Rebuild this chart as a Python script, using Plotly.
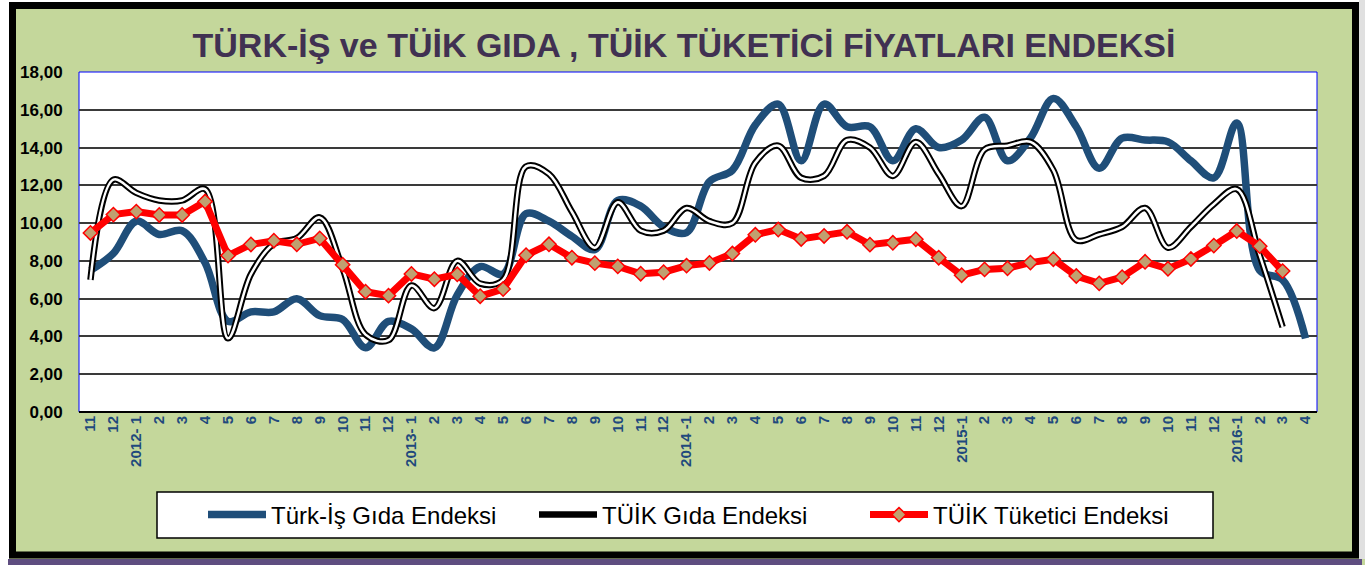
import plotly.graph_objects as go

# ---------------- data ----------------
x_labels = ["11", "12",
            "2012- 1", "2", "3", "4", "5", "6", "7", "8", "9", "10", "11", "12",
            "2013- 1", "2", "3", "4", "5", "6", "7", "8", "9", "10", "11", "12",
            "2014 -1", "2", "3", "4", "5", "6", "7", "8", "9", "10", "11", "12",
            "2015-1", "2", "3", "4", "5", "6", "7", "8", "9", "10", "11", "12",
            "2016-1", "2", "3", "4"]

turkis_gida = [7.5, 8.4, 10.1, 9.4, 9.6, 7.9, 4.8, 5.3, 5.3, 6.0, 5.1, 4.9, 3.4, 4.8,
               4.4, 3.4, 6.2, 7.7, 7.3, 10.5, 10.1, 9.3, 8.6, 11.2, 10.9, 9.8,
               9.5, 12.2, 12.8, 15.2, 16.3, 13.3, 16.3, 15.1, 15.1, 13.3, 15.0, 14.0,
               14.4, 15.6, 13.3, 14.5, 16.6, 15.1, 12.9, 14.5, 14.4, 14.3, 13.3, 12.4,
               15.3, 7.5, 7.0, 3.9]

tuik_gida = [7.0, 12.3, 11.6, 11.2, 11.2, 11.8, 3.9, 7.3, 8.9, 9.2, 10.3, 7.6, 4.1, 3.8,
             6.7, 5.5, 8.0, 6.8, 7.0, 13.0, 12.6, 10.6, 8.7, 11.1, 9.6, 9.6,
             10.8, 10.1, 10.0, 13.2, 14.1, 12.4, 12.5, 14.4, 14.0, 12.5, 14.3, 12.6,
             10.9, 13.9, 14.1, 14.3, 12.8, 9.1, 9.4, 9.8, 10.8, 8.7, 9.8, 11.0,
             11.8, 8.3, 4.5, None]

tuik_tuketici = [9.48, 10.45, 10.61, 10.43, 10.43, 11.14, 8.28, 8.87, 9.07, 8.88, 9.19, 7.80, 6.37, 6.16,
                 7.31, 7.03, 7.29, 6.13, 6.51, 8.30, 8.88, 8.17, 7.88, 7.71, 7.32, 7.40,
                 7.75, 7.89, 8.39, 9.38, 9.66, 9.16, 9.32, 9.54, 8.86, 8.96, 9.15, 8.17,
                 7.24, 7.55, 7.61, 7.91, 8.09, 7.20, 6.81, 7.14, 7.95, 7.58, 8.10, 8.81,
                 9.58, 8.78, 7.46, None]

series_names = ["Türk-İş Gıda Endeksi", "TÜİK Gıda Endeksi", "TÜİK Tüketici Endeksi"]
y_ticks = [0, 2, 4, 6, 8, 10, 12, 14, 16, 18]
title_text = "TÜRK-İŞ ve TÜİK GIDA , TÜİK TÜKETİCİ FİYATLARI ENDEKSİ"

# ---------------- layout geometry ----------------
W, H = 1365, 565
ML, MR, MT, MB = 79, 48, 72, 153
PW, PH = W - ML - MR, H - MT - MB

def px(xp):
    return (xp - ML) / PW

def py(yp):
    return (H - MB - yp) / PH

FONT = "Liberation Sans, Arial, sans-serif"
xs = list(range(len(x_labels)))

fig = go.Figure()

fig.add_trace(go.Scatter(
    x=xs, y=turkis_gida, name=series_names[0], mode="lines",
    line=dict(color="#1F4E79", width=7.5, shape="spline", smoothing=1.0),
))
fig.add_trace(go.Scatter(
    x=xs, y=tuik_gida, name=series_names[1], mode="lines",
    line=dict(color="#000000", width=6.5, shape="spline", smoothing=1.0),
    legendgroup="tg",
))
fig.add_trace(go.Scatter(
    x=xs, y=tuik_gida, name=series_names[1], mode="lines", showlegend=False,
    line=dict(color="#FFFFFF", width=2.5, shape="spline", smoothing=1.0),
    legendgroup="tg", hoverinfo="skip",
))
fig.add_trace(go.Scatter(
    x=xs, y=tuik_tuketici, name=series_names[2], mode="lines+markers",
    line=dict(color="#FF0000", width=7),
    marker=dict(symbol="diamond", size=11, color="#C0A070",
                line=dict(color="#FF0000", width=1.5)),
))

def rect(x0, y0, x1, y1, **kw):
    return dict(type="rect", xref="paper", yref="paper",
                x0=px(x0), x1=px(x1), y0=py(y1), y1=py(y0), layer="below", **kw)

shapes = [
    # outer black frame
    rect(12.5, 5.5, 1355.5, 555, line=dict(color="#000000", width=7)),
    # bottom purple shadow
    rect(8, 559, 1362, 565, line=dict(width=0), fillcolor="#5E4D80"),
    # white margins around the frame
    rect(0, 0, 9, 559, line=dict(width=0), fillcolor="#FFFFFF"),
    rect(0, 0, W, 2, line=dict(width=0), fillcolor="#FFFFFF"),
    rect(1359, 0, W, 559, line=dict(width=0), fillcolor="#E0E0E0"),
    rect(0, 559, 8, 565, line=dict(width=0), fillcolor="#FFFFFF"),
    # legend box
    rect(157, 492, 1213, 538, line=dict(color="#000000", width=1.5), fillcolor="#FFFFFF"),
    # plot area border (blue)
    dict(type="rect", xref="paper", yref="paper", x0=0, x1=1, y0=0, y1=1,
         line=dict(color="#0000FF", width=1), layer="below"),
]

fig.update_layout(
    width=W, height=H,
    margin=dict(l=ML, r=MR, t=MT, b=MB, autoexpand=False),
    paper_bgcolor="#C4D79B",
    plot_bgcolor="#FFFFFF",
    separators=",.",
    showlegend=True,
    title=dict(text=title_text, xref="container", x=684 / W, xanchor="center",
               yref="container", y=1 - 45 / H, yanchor="middle",
               font=dict(family=FONT, size=34, color="#403152", weight="bold")),
    xaxis=dict(
        range=[-0.5, len(x_labels) - 0.5], automargin=False,
        tickmode="array", tickvals=xs, ticktext=x_labels,
        tickangle=-90, showgrid=False, zeroline=False, showline=False,
        ticks="", tickfont=dict(family=FONT, size=15, color="#1F497D", weight="bold"),
    ),
    yaxis=dict(
        range=[0, 18], tickmode="array", tickvals=y_ticks, tickformat=".2f", automargin=False,
        showgrid=True, gridcolor="#3A3A3A", gridwidth=2,
        zeroline=True, zerolinecolor="#000000", zerolinewidth=2,
        showline=False, ticks="outside", ticklen=12, tickcolor="rgba(0,0,0,0)",
        tickfont=dict(family=FONT, size=17, color="#000000", weight="bold"),
    ),
    legend=dict(
        orientation="h", x=px(203), xanchor="left", y=py(515), yanchor="middle",
        bgcolor="rgba(0,0,0,0)", borderwidth=0,
        font=dict(family=FONT, size=24, color="#000000"),
        itemwidth=58,
        entrywidth=258, entrywidthmode="pixels",
        traceorder="normal",
    ),
    shapes=shapes,
)

fig.write_html("out.html", config={"displayModeBar": False},
               post_script="document.body.style.margin='0';document.body.style.overflow='hidden';")
